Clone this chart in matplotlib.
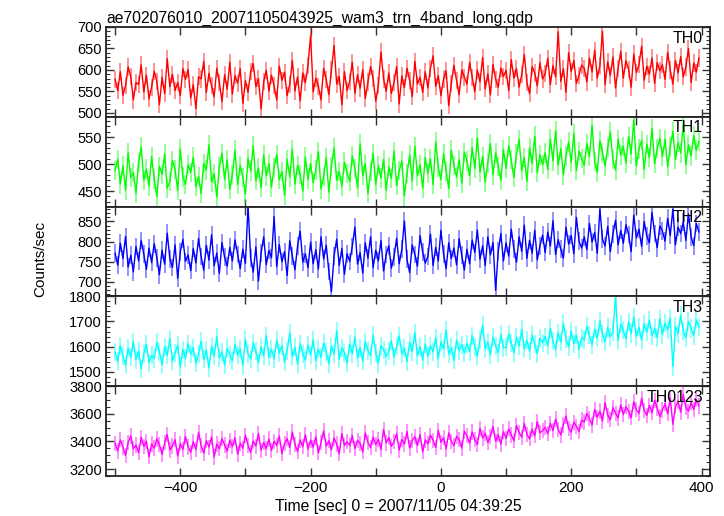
#!/usr/bin/env python3
"""WAM light curve, 4 bands + sum, stacked panels (qdp style)."""
import numpy as np
import matplotlib
matplotlib.use("Agg")
import matplotlib.pyplot as plt
from matplotlib.ticker import MultipleLocator

plt.rcParams["font.family"] = ["Liberation Sans", "DejaVu Sans"]

TITLE = "ae702076010_20071105043925_wam3_trn_4band_long.qdp"
XLABEL = "Time [sec] 0 = 2007/11/05 04:39:25"
YLABEL = "Counts/sec"

# time bins (sec, relative to 04:39:25), 4 s bins
t = np.arange(-500, 400, 4)

th0 = [
    578, 552, 596, 541, 563, 607, 585, 530, 571, 566, 612, 549, 588, 533, 560,
    597, 574, 519, 583, 545, 626, 561, 590, 552, 571, 540, 603, 578, 601, 535,
    566, 510, 584, 579, 620, 548, 592, 563, 537, 604, 571, 526, 589, 555, 618,
    544, 587, 569, 603, 522, 575, 548, 596, 615, 561, 580, 509, 573, 599, 551,
    588, 563, 530, 609, 576, 595, 540, 567, 622, 551, 584, 528, 593, 570, 611,
    680, 549, 581, 562, 530, 604, 578, 543, 600, 657, 567, 585, 519, 596, 552,
    573, 618, 546, 589, 557, 601, 534, 572, 608, 580, 527, 564, 642, 579, 550,
    593, 545, 571, 608, 521, 586, 559, 604, 576, 538, 620, 567, 583, 548, 596,
    558, 604, 633, 562, 587, 540, 579, 598, 517, 569, 611, 575, 542, 600, 583,
    567, 618, 583, 549, 600, 572, 629, 556, 591, 542, 613, 578, 560, 604, 585,
    599, 552, 624, 581, 603, 560, 589, 636, 571, 545, 608, 593, 563, 617, 579,
    591, 627, 566, 610, 584, 689, 573, 603, 548, 640, 596, 622, 569, 588, 611,
    604, 572, 628, 595, 646, 581, 610, 690, 566, 619, 587, 630, 558, 604, 643,
    581, 622, 602, 560, 637, 594, 612, 655, 576, 609, 590, 628, 569, 617, 598,
    612, 578, 641, 600, 567, 622, 593, 631, 584, 607, 650, 571, 616, 595, 628,
]
th1 = [
    488, 509, 463, 497, 452, 521, 475, 484, 446, 503, 532, 470, 491, 459, 514,
    472, 440, 496, 481, 519, 455, 468, 507, 490, 451, 528, 476, 462, 499, 485,
    513, 458, 477, 445, 501, 489, 536, 467, 482, 439, 495, 520, 471, 508, 453,
    480, 526, 462, 498, 475, 444, 511, 487, 534, 469, 493, 456, 517, 478, 501,
    457, 494, 518, 471, 486, 442, 509, 476, 527, 463, 498, 481, 450, 513, 472,
    501, 466, 489, 523, 454, 477, 512, 448, 495, 530, 470, 486, 459, 504, 483,
    468, 515, 492, 456, 538, 479, 501, 445, 486, 520, 462, 497, 474, 509, 451,
    495, 473, 524, 460, 488, 506, 441, 482, 517, 469, 533, 478, 499, 455, 512,
    483, 510, 462, 541, 494, 471, 519, 487, 455, 526, 498, 476, 508, 465, 522,
    506, 478, 531, 492, 549, 485, 514, 467, 502, 538, 480, 521, 496, 470, 527,
    492, 534, 508, 475, 519, 546, 488, 512, 468, 530, 501, 552, 484, 517, 499,
    521, 490, 547, 506, 562, 498, 529, 480, 515, 541, 503, 557, 488, 524, 511,
    498, 538, 514, 572, 505, 485, 543, 522, 496, 531, 560, 508, 489, 546, 517,
    533, 502, 551, 519, 583, 497, 528, 544, 490, 537, 512, 566, 501, 529, 548,
    514, 546, 495, 532, 561, 508, 540, 521, 575, 499, 536, 515, 553, 526, 542,
]
th2 = [
    771, 742, 796, 758, 813, 737, 766, 725, 788, 752, 803, 769, 731, 784, 748,
    795, 760, 718, 779, 744, 821, 757, 736, 792, 709, 774, 806, 751, 767, 728,
    783, 747, 808, 763, 729, 791, 754, 817, 740, 772, 721, 798, 761, 739, 786,
    752, 804, 768, 733, 781, 746, 890, 759, 724, 787, 702, 771, 812, 743, 778,
    760, 862, 738, 793, 750, 775, 716, 802, 764, 730, 789, 826, 749, 770, 735,
    799, 745, 780, 732, 812, 757, 791, 726, 676, 764, 806, 741, 783, 719, 770,
    751, 788, 836, 744, 773, 722, 797, 759, 812, 735, 779, 752, 803, 727, 768,
    790, 734, 762, 808, 745, 781, 851, 756, 723, 792, 768, 739, 815, 774, 747,
    763, 819, 741, 786, 752, 828, 770, 733, 797, 758, 784, 742, 807, 766, 729,
    781, 745, 804, 773, 829, 756, 790, 741, 812, 767, 798, 679, 776, 820, 752,
    797, 764, 831, 782, 749, 812, 776, 841, 759, 803, 771, 828, 755, 790, 816,
    773, 824, 789, 852, 768, 805, 781, 759, 836, 794, 815, 770, 860, 801, 784,
    812, 780, 845, 799, 823, 771, 881, 806, 789, 838, 775, 819, 853, 792, 828,
    796, 842, 818, 775, 866, 809, 831, 788, 850, 814, 797, 873, 820, 785, 839,
    827, 801, 858, 815, 881, 792, 836, 820, 848, 803, 869, 812, 790, 845, 824,
]
th3 = [
    1578, 1541, 1603, 1562, 1526, 1594, 1557, 1620, 1548, 1583, 1512, 1571, 1609, 1536, 1566,
    1552, 1617, 1580, 1528, 1599, 1565, 1632, 1541, 1574, 1606, 1519, 1588, 1553, 1612, 1570,
    1596, 1533, 1571, 1622, 1549, 1585, 1514, 1601, 1562, 1640, 1555, 1579, 1527, 1593, 1568,
    1543, 1608, 1566, 1591, 1524, 1629, 1572, 1550, 1615, 1581, 1536, 1598, 1563, 1644, 1557,
    1589, 1551, 1625, 1574, 1603, 1538, 1582, 1655, 1560, 1597, 1529, 1612, 1571, 1546, 1606,
    1567, 1628, 1544, 1590, 1558, 1614, 1579, 1531, 1602, 1571, 1663, 1549, 1595, 1575, 1534,
    1611, 1572, 1638, 1555, 1596, 1542, 1620, 1584, 1563, 1645, 1576, 1532, 1604, 1588, 1560,
    1582, 1623, 1558, 1601, 1643, 1571, 1594, 1540, 1617, 1580, 1655, 1563, 1599, 1546, 1610,
    1561, 1603, 1579, 1636, 1552, 1618, 1590, 1666, 1570, 1597, 1545, 1625, 1584, 1608, 1574,
    1612, 1580, 1643, 1598, 1562, 1627, 1685, 1591, 1618, 1567, 1638, 1603, 1576, 1649, 1595,
    1598, 1651, 1614, 1575, 1637, 1602, 1668, 1589, 1625, 1583, 1646, 1610, 1572, 1633, 1615,
    1640, 1603, 1672, 1621, 1589, 1655, 1617, 1694, 1630, 1598, 1662, 1612, 1647, 1588, 1636,
    1627, 1681, 1645, 1608, 1669, 1633, 1702, 1651, 1618, 1676, 1639, 1660, 1800, 1624, 1690,
    1665, 1631, 1698, 1652, 1718, 1640, 1677, 1625, 1690, 1658, 1705, 1643, 1672, 1636, 1711,
    1648, 1694, 1667, 1712, 1520, 1680, 1651, 1725, 1663, 1635, 1700, 1672, 1644, 1707, 1678,
]
th0123 = [
    3386, 3331, 3412, 3358, 3300, 3395, 3440, 3347, 3374, 3318, 3429, 3365, 3402, 3289, 3381,
    3352, 3418, 3377, 3306, 3391, 3450, 3338, 3367, 3413, 3295, 3384, 3342, 3436, 3360, 3322,
    3398, 3341, 3466, 3370, 3316, 3405, 3359, 3432, 3287, 3381, 3347, 3420, 3375, 3330, 3409,
    3363, 3427, 3309, 3388, 3351, 3445, 3372, 3320, 3404, 3366, 3458, 3337, 3391, 3348, 3418,
    3335, 3402, 3371, 3439, 3312, 3385, 3420, 3356, 3468, 3379, 3327, 3411, 3362, 3448, 3344,
    3410, 3359, 3433, 3318, 3392, 3476, 3366, 3405, 3340, 3425, 3381, 3310, 3457, 3372, 3398,
    3371, 3442, 3349, 3408, 3386, 3325, 3462, 3393, 3356, 3431, 3378, 3414, 3342, 3487, 3389,
    3428, 3364, 3399, 3456, 3338, 3415, 3381, 3472, 3352, 3407, 3435, 3370, 3449, 3325, 3411,
    3383, 3446, 3409, 3357, 3481, 3394, 3427, 3346, 3462, 3401, 3369, 3438, 3415, 3352, 3473,
    3441, 3387, 3469, 3412, 3378, 3495, 3425, 3460, 3393, 3436, 3509, 3402, 3448, 3381, 3470,
    3423, 3491, 3447, 3405, 3514, 3466, 3431, 3530, 3452, 3419, 3488, 3441, 3545, 3462, 3478,
    3502, 3456, 3531, 3478, 3562, 3489, 3447, 3519, 3584, 3495, 3468, 3540, 3510, 3471, 3555,
    3541, 3602, 3566, 3519, 3633, 3575, 3620, 3548, 3681, 3590, 3557, 3646, 3604, 3570, 3665,
    3595, 3652, 3618, 3571, 3688, 3630, 3604, 3712, 3625, 3589, 3661, 3607, 3698, 3642, 3580,
    3628, 3673, 3601, 3715, 3525, 3651, 3690, 3612, 3740, 3644, 3618, 3683, 3632, 3705, 3657,
]
# 1-sigma error per bin (counts/sec)
errors = [20, 18, 22, 36, 55]
names = ["TH0", "TH1", "TH2", "TH3", "TH0123"]


def main():
    series = [th0, th1, th2, th3, th0123]
    colors = ["#ff0000", "#00ff00", "#0000ff", "#00ffff", "#ff00ff"]
    ylims = [(491, 700), (421, 588), (664, 887), (1442, 1800), (3150, 3800)]
    majors = [50, 50, 50, 100, 200]
    minors = [10, 10, 10, 20, 50]

    fig = plt.figure(figsize=(7.24, 5.16), dpi=100)
    left, right, top, bottom = 106 / 724, 710 / 724, 1 - 27 / 516, 1 - 476 / 516
    h = (top - bottom) / 5

    axes = []
    for i, (y, c, name) in enumerate(zip(series, colors, names)):
        ax = fig.add_axes([left, top - (i + 1) * h, right - left, h])
        ax.errorbar(t, y, yerr=errors[i], fmt="none", ecolor=c, elinewidth=1.2,
                    alpha=0.5)
        ax.plot(t, y, color=c, lw=1.0)
        ax.set_xlim(-514, 413)
        ax.set_ylim(*ylims[i])
        ax.yaxis.set_major_locator(MultipleLocator(majors[i]))
        ax.yaxis.set_minor_locator(MultipleLocator(minors[i]))
        ax.xaxis.set_major_locator(MultipleLocator(200))
        ax.xaxis.set_minor_locator(MultipleLocator(100))
        ax.tick_params(which="both", direction="in", top=True, right=True,
                       labelsize=11, color="#333333")
        ax.tick_params(axis="y", labelsize=10.5, pad=3)
        ax.tick_params(which="major", length=6, width=1.0)
        ax.tick_params(axis="y", which="minor", length=3, width=0.8)
        ax.tick_params(axis="x", which="minor", length=6, width=1.0)
        for sp in ax.spines.values():
            sp.set_linewidth(1.3)
            sp.set_color("#222222")
        if i < 4:
            ax.tick_params(labelbottom=False)
        ax.text(0.988, 0.96, name, transform=ax.transAxes, ha="right", va="top",
                fontsize=11.5)
        axes.append(ax)

    axes[0].set_title(TITLE, loc="left", fontsize=11.3, pad=3)
    fig.text(398 / 724, 1 - 507 / 516, XLABEL, ha="center", va="center",
             fontsize=11.3)
    fig.text(40 / 724, 1 - 259 / 516, YLABEL, rotation=90, ha="center",
             va="center", fontsize=11)

    fig.savefig("out.png", dpi=100)


if __name__ == "__main__":
    main()
